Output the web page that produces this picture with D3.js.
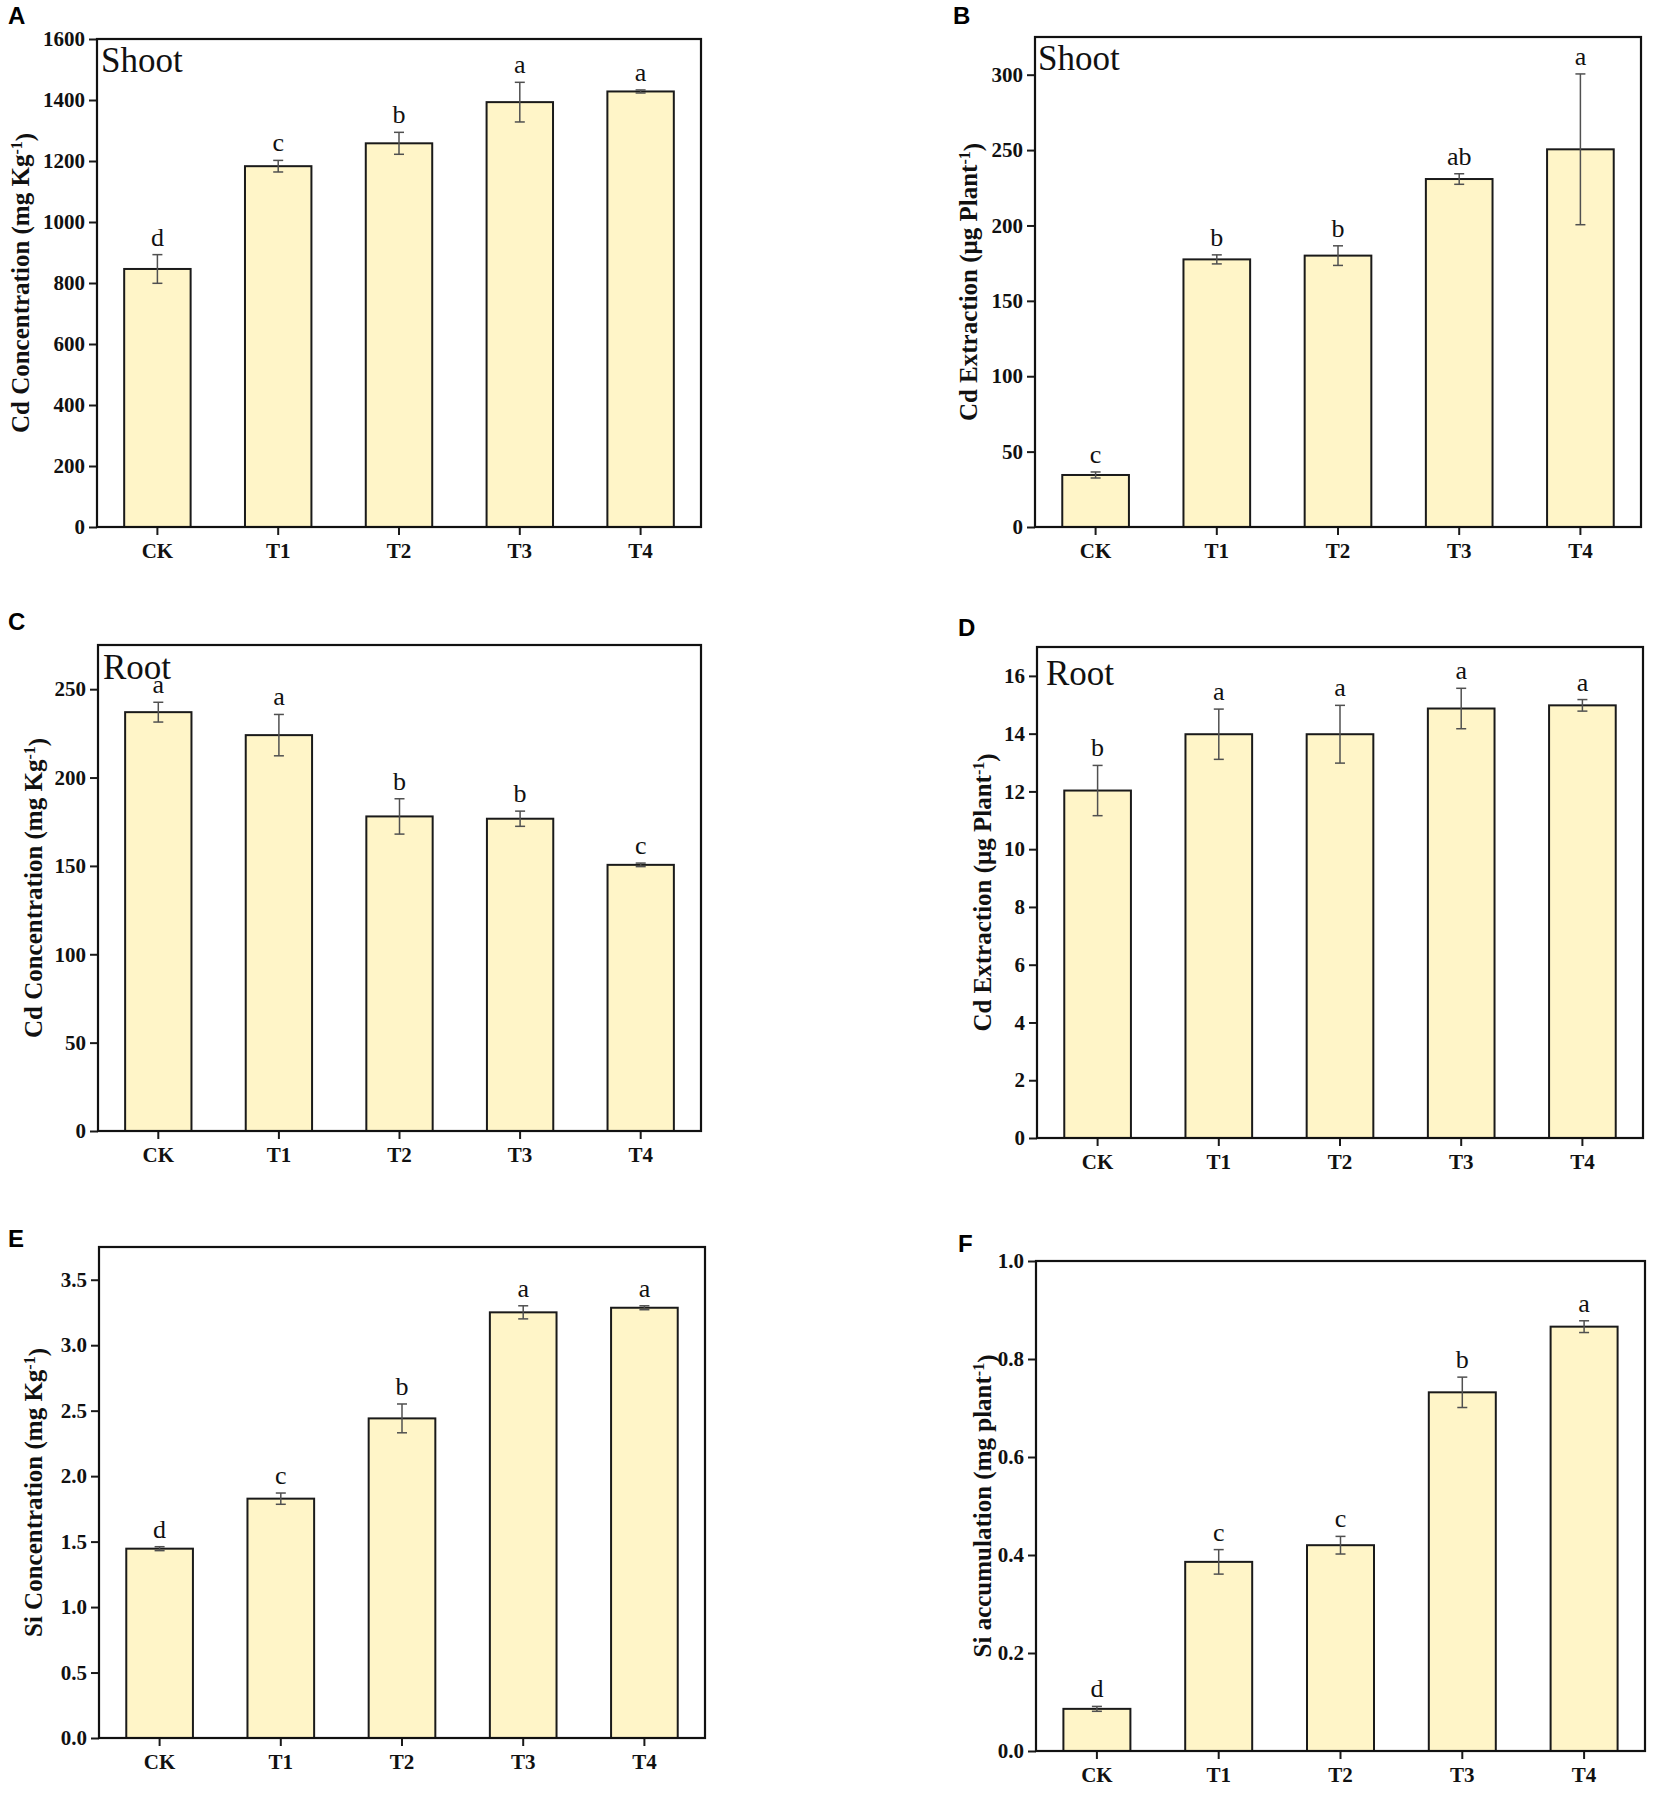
<!DOCTYPE html>
<html>
<head>
<meta charset="utf-8">
<script src="https://cdn.jsdelivr.net/npm/d3@7"></script>
<style>
  body { margin: 0; background: #fff; }
  svg { display: block; }
</style>
</head>
<body>
<svg id="fig" width="1654" height="1793"></svg>
<script>
// treatments on every x axis
let groups = ["CK", "T1", "T2", "T3", "T4"];

// A - Cd concentration in shoot
let shootConc = [846, 1183, 1258, 1393, 1428];
let shootConcErr = [47, 19, 36, 65, 5];
let shootConcSig = ["d", "c", "b", "a", "a"];
let shootConcTicks = [0, 200, 400, 600, 800, 1000, 1200, 1400, 1600];

// B - Cd extraction in shoot
let shootExt = [34.5, 177.5, 180, 230.8, 250.5];
let shootExtErr = [2, 3, 6.5, 3.5, 50];
let shootExtSig = ["c", "b", "b", "ab", "a"];
let shootExtTicks = [0, 50, 100, 150, 200, 250, 300];

// C - Cd concentration in root
let rootConc = [237, 224, 178, 176.7, 150.6];
let rootConcErr = [5.6, 11.7, 10, 4.3, 1];
let rootConcSig = ["a", "a", "b", "b", "c"];
let rootConcTicks = [0, 50, 100, 150, 200, 250];

// D - Cd extraction in root
let rootExt = [12.03, 13.98, 13.98, 14.87, 14.98];
let rootExtErr = [0.87, 0.87, 1.0, 0.7, 0.2];
let rootExtSig = ["b", "a", "a", "a", "a"];
let rootExtTicks = [0, 2, 4, 6, 8, 10, 12, 14, 16];

// E - Si concentration
let siConc = [1.446, 1.828, 2.441, 3.251, 3.286];
let siConcErr = [0.015, 0.043, 0.11, 0.05, 0.015];
let siConcSig = ["d", "c", "b", "a", "a"];
let siConcTicks = [0, 0.5, 1.0, 1.5, 2.0, 2.5, 3.0, 3.5];

// F - Si accumulation
let siAcc = [0.086, 0.386, 0.42, 0.732, 0.866];
let siAccErr = [0.005, 0.025, 0.018, 0.031, 0.012];
let siAccSig = ["d", "c", "c", "b", "a"];
let siAccTicks = [0, 0.2, 0.4, 0.6, 0.8, 1.0];

let serif = "'Liberation Serif', 'Times New Roman', serif";
let sans = "'Liberation Sans', Arial, sans-serif";

let panels = [
    { tag: "A", vals: shootConc, err: shootConcErr, sig: shootConcSig, ticks: shootConcTicks, max: 1600, fmt: d3.format("d"),
      label: ["Cd Concentration (mg Kg", "-1", ")"], part: "Shoot",
      box: [97, 39, 701, 527], tagPos: [8, 24], labelX: 20, partPos: [101, 72] },
    { tag: "B", vals: shootExt, err: shootExtErr, sig: shootExtSig, ticks: shootExtTicks, max: 325, fmt: d3.format("d"),
      label: ["Cd Extraction (\u03bcg Plant", "-1", ")"], part: "Shoot",
      box: [1035, 37, 1641, 527], tagPos: [953, 24], labelX: 968, partPos: [1038, 70] },
    { tag: "C", vals: rootConc, err: rootConcErr, sig: rootConcSig, ticks: rootConcTicks, max: 275, fmt: d3.format("d"),
      label: ["Cd Concentration (mg Kg", "-1", ")"], part: "Root",
      box: [98, 645, 701, 1131], tagPos: [8, 630], labelX: 33, partPos: [103, 679] },
    { tag: "D", vals: rootExt, err: rootExtErr, sig: rootExtSig, ticks: rootExtTicks, max: 17, fmt: d3.format("d"),
      label: ["Cd Extraction (\u03bcg Plant", "-1", ")"], part: "Root",
      box: [1037, 647, 1643, 1138], tagPos: [958, 636], labelX: 982, partPos: [1046, 685] },
    { tag: "E", vals: siConc, err: siConcErr, sig: siConcSig, ticks: siConcTicks, max: 3.75, fmt: d3.format(".1f"),
      label: ["Si Concentration (mg Kg", "-1", ")"], part: null,
      box: [99, 1247, 705, 1738], tagPos: [8, 1247], labelX: 33, partPos: null },
    { tag: "F", vals: siAcc, err: siAccErr, sig: siAccSig, ticks: siAccTicks, max: 1.0, fmt: d3.format(".1f"),
      label: ["Si accumulation (mg plant", "-1", ")"], part: null,
      box: [1036, 1261, 1645, 1751], tagPos: [958, 1252], labelX: 982, partPos: null }
];

let svg = d3.select("#fig");

function drawPanel(p) {
    let [x0, y0, x1, y1] = p.box;

    let x = d3.scaleBand()
        .domain(groups)
        .range([x0, x1])
        .paddingInner(0.45)
        .paddingOuter(0.225);

    let y = d3.scaleLinear()
        .domain([0, p.max])
        .range([y1, y0]);

    let g = svg.append("g");
    let mid = d => x(d) + x.bandwidth() / 2;

    // bars
    g.selectAll("rect.bar")
        .data(groups)
        .enter().append("rect")
            .attr("class", "bar")
            .attr("x", d => x(d))
            .attr("y", (d, i) => y(p.vals[i]))
            .attr("width", x.bandwidth())
            .attr("height", (d, i) => y(0) - y(p.vals[i]))
            .attr("fill", "#fff5c8")
            .attr("stroke", "#1a1a1a")
            .attr("stroke-width", 2);

    // error bars
    let cap = 5;
    let eb = g.selectAll("g.err")
        .data(groups)
        .enter().append("g")
            .attr("class", "err")
            .attr("stroke", "#505050")
            .attr("stroke-width", 1.5);
    eb.append("line")
        .attr("x1", mid)
        .attr("x2", mid)
        .attr("y1", (d, i) => y(p.vals[i] + p.err[i]))
        .attr("y2", (d, i) => y(p.vals[i] - p.err[i]));
    eb.append("line")
        .attr("x1", d => mid(d) - cap)
        .attr("x2", d => mid(d) + cap)
        .attr("y1", (d, i) => y(p.vals[i] + p.err[i]))
        .attr("y2", (d, i) => y(p.vals[i] + p.err[i]));
    eb.append("line")
        .attr("x1", d => mid(d) - cap)
        .attr("x2", d => mid(d) + cap)
        .attr("y1", (d, i) => y(p.vals[i] - p.err[i]))
        .attr("y2", (d, i) => y(p.vals[i] - p.err[i]));

    // significance letters
    g.selectAll("text.sig")
        .data(groups)
        .enter().append("text")
            .attr("class", "sig")
            .attr("x", mid)
            .attr("y", (d, i) => y(p.vals[i] + p.err[i]) - 9)
            .attr("text-anchor", "middle")
            .style("font-family", serif)
            .style("font-size", "26px")
            .attr("fill", "#111")
            .text((d, i) => p.sig[i]);

    // axes
    let xAxis = g.append("g")
        .attr("transform", "translate(0," + y1 + ")")
        .call(d3.axisBottom(x).tickSizeOuter(0).tickSize(8).tickPadding(8));
    let yAxis = g.append("g")
        .attr("transform", "translate(" + x0 + ",0)")
        .call(d3.axisLeft(y).tickValues(p.ticks).tickFormat(p.fmt).tickSizeOuter(0).tickSize(8).tickPadding(4));

    [xAxis, yAxis].forEach(a => {
        a.select(".domain").remove();
        a.selectAll("line").attr("stroke", "#1a1a1a").attr("stroke-width", 2);
        a.selectAll("text")
            .attr("fill", "#111")
            .style("font-family", serif)
            .style("font-weight", "bold")
            .style("font-size", "21px");
    });

    // frame
    g.append("rect")
        .attr("x", x0)
        .attr("y", y0)
        .attr("width", x1 - x0)
        .attr("height", y1 - y0)
        .attr("fill", "none")
        .attr("stroke", "#111")
        .attr("stroke-width", 2.2);

    // y axis title
    let lab = g.append("text")
        .attr("transform", "translate(" + p.labelX + "," + ((y0 + y1) / 2) + ") rotate(-90)")
        .attr("text-anchor", "middle")
        .attr("dy", "0.35em")
        .style("font-family", serif)
        .style("font-weight", "bold")
        .style("font-size", "25px")
        .attr("fill", "#111");
    lab.append("tspan").text(p.label[0]);
    lab.append("tspan").attr("dy", "-0.45em").style("font-size", "16px").text(p.label[1]);
    lab.append("tspan").attr("dy", "0.45em").text(p.label[2]);

    // plant part
    if (p.part) {
        g.append("text")
            .attr("x", p.partPos[0])
            .attr("y", p.partPos[1])
            .style("font-family", serif)
            .style("font-size", "35px")
            .attr("fill", "#111")
            .text(p.part);
    }

    // panel tag
    svg.append("text")
        .attr("x", p.tagPos[0])
        .attr("y", p.tagPos[1])
        .style("font-family", sans)
        .style("font-weight", "bold")
        .style("font-size", "24px")
        .attr("fill", "#000")
        .text(p.tag);
}

panels.forEach(drawPanel);
</script>
</body>
</html>
